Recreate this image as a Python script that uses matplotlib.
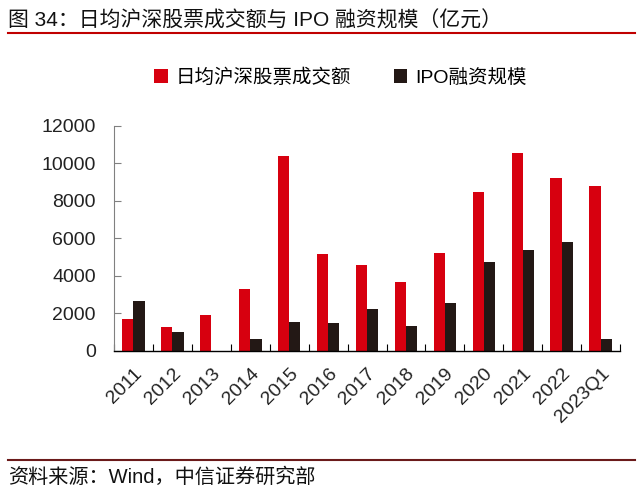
import matplotlib
matplotlib.use("Agg")
import matplotlib.pyplot as plt
import numpy as np
from matplotlib.lines import Line2D

plt.rcParams['font.family'] = ['Liberation Sans', 'Noto Sans CJK SC', 'DejaVu Sans']

categories = ["2011", "2012", "2013", "2014", "2015", "2016", "2017", "2018",
              "2019", "2020", "2021", "2022", "2023Q1"]
turnover = [1700, 1280, 1940, 3290, 10380, 5170, 4570, 3680, 5210, 8480, 10580, 9250, 8780]
ipo = [2650, 1010, 0, 640, 1565, 1475, 2260, 1350, 2540, 4760, 5390, 5830, 640]
series_names = ["日均沪深股票成交额", "IPO融资规模"]
yticks = [0, 2000, 4000, 6000, 8000, 10000, 12000]

title = "图 34：日均沪深股票成交额与 IPO 融资规模（亿元）"
source = "资料来源：Wind，中信证券研究部"

red = '#D7000F'
dark = '#231815'

fig = plt.figure(figsize=(6.4, 4.99), dpi=100)
ax = fig.add_axes([0.178, 0.2966, 0.791, 0.4509])

x = np.arange(len(categories))
w = 0.29
ax.bar(x - w / 2, turnover, width=w, color=red, label=series_names[0])
ax.bar(x + w / 2, ipo, width=w, color=dark, label=series_names[1])

ax.set_xlim(-0.5, len(categories) - 0.5)
ax.set_ylim(0, 12000)
ax.set_yticks(yticks)
ax.set_yticklabels([str(v) for v in yticks], fontsize=14, color='#222222')
ax.set_xticks(x)
ax.set_xticklabels(categories, rotation=45, ha='right', rotation_mode='anchor',
                   fontsize=14, color='#222222')
ax.tick_params(axis='x', which='major', length=0, pad=10)
ax.set_xticks(np.arange(-0.5, len(categories), 1), minor=True)
ax.tick_params(axis='x', which='minor', direction='in', length=5, color='black', width=0.8)
ax.tick_params(axis='y', direction='in', length=5, color='#808080', pad=13)

for s in ['top', 'right']:
    ax.spines[s].set_visible(False)
ax.spines['left'].set_color('#808080')
ax.spines['bottom'].set_color('black')
ax.spines['bottom'].set_linewidth(1.0)

fig.legend(loc='center', bbox_to_anchor=(0.532, 0.844), ncol=2, frameon=False,
           fontsize=14, handlelength=0.7, handleheight=0.7, handletextpad=0.4,
           columnspacing=2.2)

fig.text(0.0125, 0.958, title, fontsize=15, va='center', ha='left', color='#111111')
fig.add_artist(Line2D([0.0125, 0.992], [0.933, 0.933], color='#C00000', lw=1.5,
                      transform=fig.transFigure))
fig.add_artist(Line2D([0.0125, 0.992], [0.078, 0.078], color='#6B1A1A', lw=1.5,
                      transform=fig.transFigure))
fig.text(0.0125, 0.044, source, fontsize=14.5, va='center', ha='left', color='#111111')

fig.savefig('out.png', dpi=100)
